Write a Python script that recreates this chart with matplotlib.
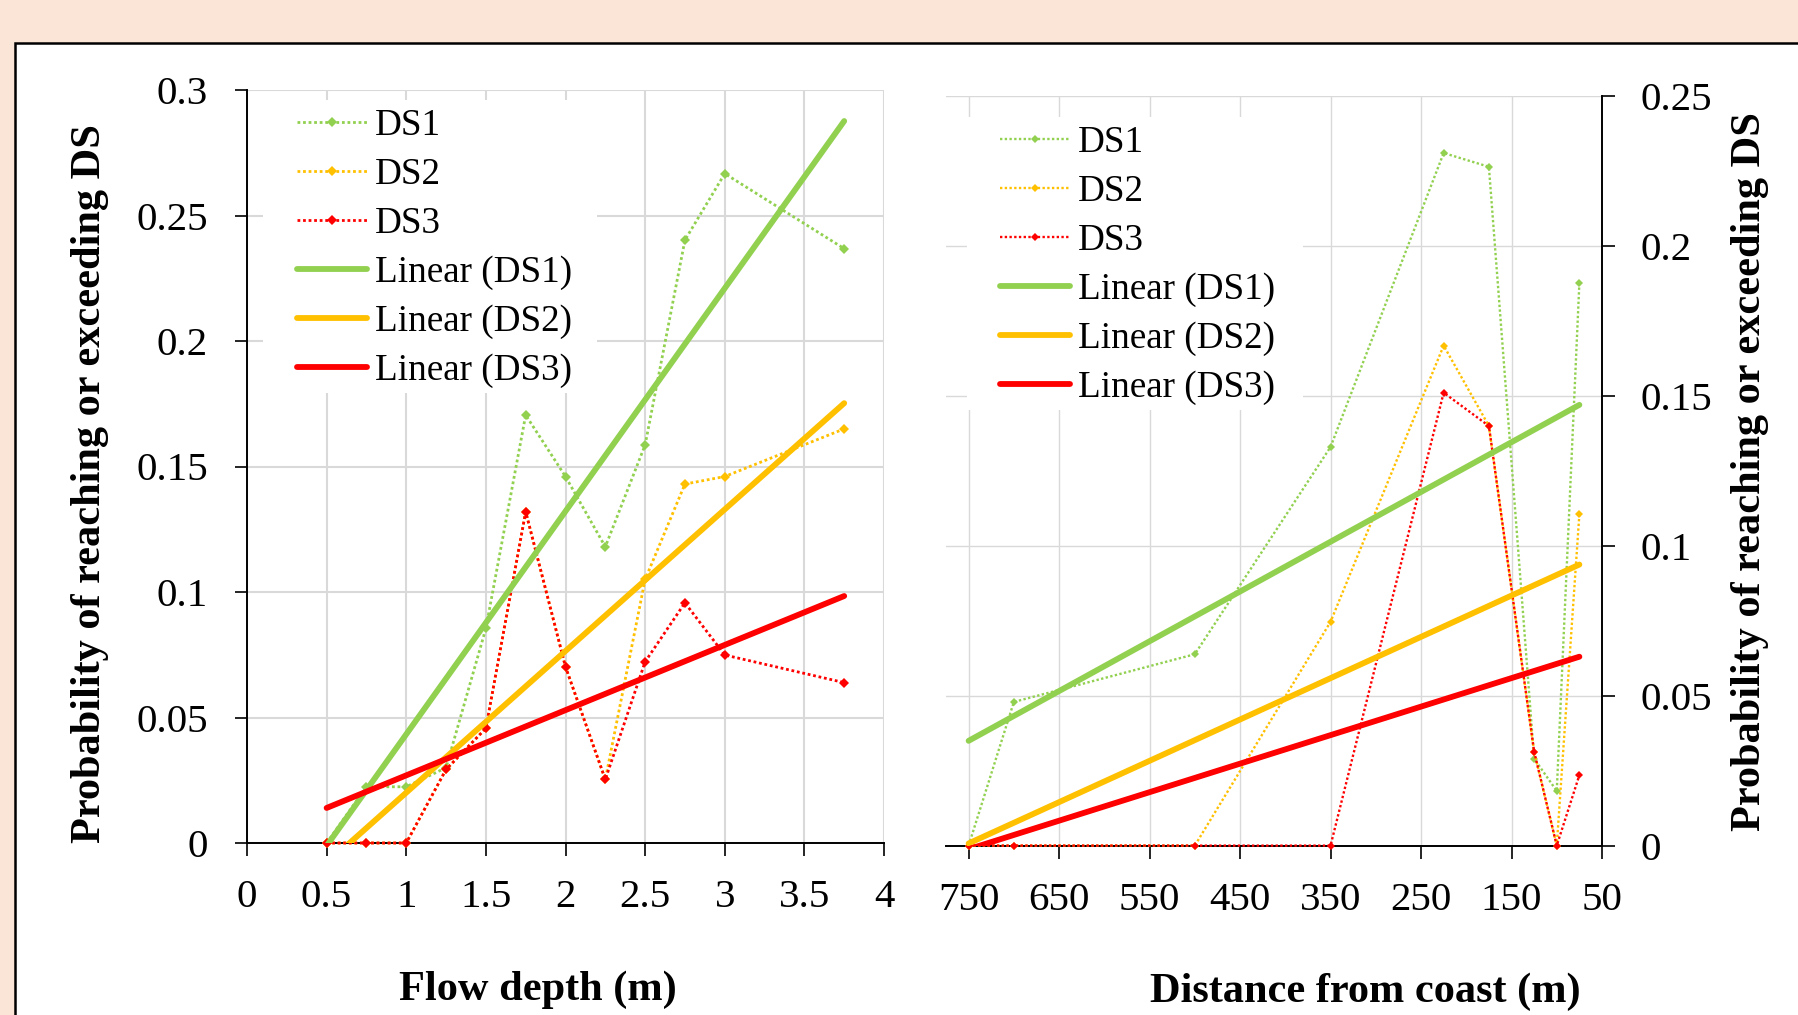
import numpy as np
import matplotlib
matplotlib.use("Agg")
import matplotlib.pyplot as plt
from matplotlib.patches import Rectangle

# flow depth panel
depth = [0.5, 0.75, 1, 1.25, 1.5, 1.75, 2, 2.25, 2.5, 2.75, 3, 3.75]
depth_ds1 = [0, 0.0224, 0.0224, 0.030, 0.0855, 0.1705, 0.146, 0.118, 0.1586, 0.2402, 0.2667, 0.2368]
depth_ds2 = [0, 0, 0, 0.0293, 0.0457, 0.132, 0.0702, 0.0253, 0.105, 0.143, 0.146, 0.165]
depth_ds3 = [0, 0, 0, 0.0293, 0.0457, 0.132, 0.0702, 0.0253, 0.0722, 0.0957, 0.0749, 0.0639]

# distance from coast panel
dist = [750, 700, 500, 350, 225, 175, 125, 100, 75]
dist_ds1 = [0, 0.0479, 0.0638, 0.1329, 0.2309, 0.2263, 0.029, 0.0182, 0.1876]
dist_ds2 = [0, 0, 0, 0.0746, 0.1667, 0.1399, 0.0313, 0, 0.1105]
dist_ds3 = [0, 0, 0, 0, 0.151, 0.1399, 0.0313, 0, 0.0235]

depth_xticks = [0, 0.5, 1, 1.5, 2, 2.5, 3, 3.5, 4]
depth_xlabels = ['0', '0.5', '1', '1.5', '2', '2.5', '3', '3.5', '4']
depth_yticks = [0, 0.05, 0.1, 0.15, 0.2, 0.25, 0.3]
depth_ylabels = ['0', '0.05', '0.1', '0.15', '0.2', '0.25', '0.3']
dist_xticks = [750, 650, 550, 450, 350, 250, 150, 50]
dist_xlabels = ['750', '650', '550', '450', '350', '250', '150', '50']
dist_yticks = [0, 0.05, 0.1, 0.15, 0.2, 0.25]
dist_ylabels = ['0', '0.05', '0.1', '0.15', '0.2', '0.25']

series_names = ['DS1', 'DS2', 'DS3']
colors = ['#92D050', '#FFC000', '#FF0000']

plt.rcParams['font.family'] = ['Liberation Serif', 'DejaVu Serif']

W, H = 1799, 1015
fig = plt.figure(figsize=(W / 100, H / 100), dpi=100, facecolor='#FBE5D6')


def fx(px):
    return px / W


def fy(py):
    return 1 - py / H


# white panel with black frame
fig.add_artist(Rectangle((fx(15.3), -0.05), 1.1, fy(43.2) + 0.05, transform=fig.transFigure,
                         facecolor='white', edgecolor='black', linewidth=1.8, zorder=-1))

ax1 = fig.add_axes([fx(247), fy(843), fx(884) - fx(247), fy(90) - fy(843)])
ax2 = fig.add_axes([fx(946), fy(845.6), fx(1602) - fx(946), fy(95.7) - fy(845.6)])


def draw_panel(ax, x, ys, msize, dlw, glw):
    handles = []
    for y, c, n in zip(ys, colors, series_names):
        h, = ax.plot(x, y, color=c, linestyle=(0, (1, 1)), linewidth=dlw, marker='D',
                     markersize=msize, markeredgewidth=0, label=n, clip_on=False, zorder=3)
        handles.append(h)
    xs = np.array([min(x), max(x)])
    for y, c, n in zip(ys, colors, series_names):
        k, b = np.polyfit(x, y, 1)
        h, = ax.plot(xs, k * xs + b, color=c, linewidth=4.2, solid_capstyle='round',
                     label='Linear (%s)' % n, zorder=4)
        handles.append(h)
    ax.set_axisbelow(True)
    ax.grid(True, color='#D9D9D9', linewidth=glw)
    ax.tick_params(direction='out', length=9, width=1.2, labelsize=29.5, color='black')
    ax.tick_params(axis='x', pad=17)
    ax.tick_params(axis='y', pad=19)
    for s in ax.spines.values():
        s.set_linewidth(1.4)
    ax.spines['top'].set_visible(False)
    return handles


h1 = draw_panel(ax1, depth, [depth_ds1, depth_ds2, depth_ds3], 5.3, 2.0, 1.5)
ax1.spines['right'].set_visible(False)
ax1.set_xlim(0, 4)
ax1.set_ylim(0, 0.3)
ax1.set_xticks(depth_xticks)
ax1.set_xticklabels(depth_xlabels)
ax1.set_yticks(depth_yticks)
ax1.set_yticklabels(depth_ylabels)

h2 = draw_panel(ax2, dist, [dist_ds1, dist_ds2, dist_ds3], 3.8, 1.7, 1.0)
ax2.spines['left'].set_visible(False)
ax2.yaxis.tick_right()
ax2.set_xlim(775, 50)
ax2.set_ylim(0, 0.25)
ax2.set_xticks(dist_xticks)
ax2.set_xticklabels(dist_xlabels)
ax2.set_yticks(dist_yticks)
ax2.set_yticklabels(dist_ylabels)

# legend backgrounds hide the gridlines
ax1.add_artist(Rectangle((fx(263), fy(393)), fx(597) - fx(263), fy(100) - fy(393),
                         transform=fig.transFigure, facecolor='white', edgecolor='none',
                         zorder=1, clip_on=False))
ax2.add_artist(Rectangle((fx(967), fy(410)), fx(1303) - fx(967), fy(117) - fy(410),
                         transform=fig.transFigure, facecolor='white', edgecolor='none',
                         zorder=1, clip_on=False))

row_h = 34.7
leg_kw = dict(loc='upper left', bbox_transform=fig.transFigure, frameon=False, fontsize=26.7,
              borderpad=0, borderaxespad=0, handlelength=1.9, handletextpad=0.2,
              labelspacing=(49.0 - row_h) / 37.0)
ax1.legend(handles=h1, bbox_to_anchor=(fx(297), fy(108.8)), **leg_kw)
ax2.legend(handles=h2, bbox_to_anchor=(fx(1000), fy(125.6)), **leg_kw)

ylab = 'Probability of reaching or exceeding DS'
fig.text(fx(90), fy(483.5), ylab, rotation=90, ha='center', va='center',
         fontsize=30.5, fontweight='bold')
fig.text(fx(1750), fy(472), ylab, rotation=90, ha='center', va='center',
         fontsize=30.5, fontweight='bold')
fig.text(fx(538), fy(1000), 'Flow depth (m)', ha='center', va='baseline',
         fontsize=30.5, fontweight='bold')
fig.text(fx(1365), fy(1002), 'Distance from coast (m)', ha='center', va='baseline',
         fontsize=30.5, fontweight='bold')

fig.savefig('out.png', dpi=100, facecolor=fig.get_facecolor())
